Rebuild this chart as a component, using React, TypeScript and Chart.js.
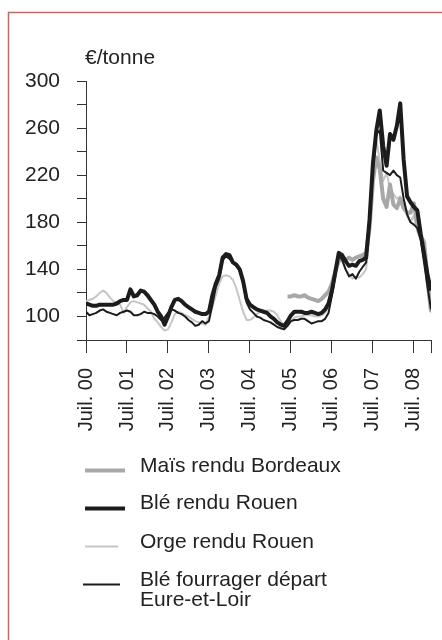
import React, { useEffect, useRef } from "react";
import { Chart, registerables } from "chart.js";

Chart.register(...registerables);

// Month index 0 = juillet 2000 ... 101 = décembre 2008
const xTickMonths = [0, 12, 24, 36, 48, 60, 72, 84, 96, 101];
const xTickLabels = ["Juil. 00", "Juil. 01", "Juil. 02", "Juil. 03", "Juil. 04", "Juil. 05", "Juil. 06", "Juil. 07", "Juil. 08", ""];
const yTickValues = [80, 100, 120, 140, 160, 180, 200, 220, 240, 260, 280, 300];
const yLabeledTicks = [100, 140, 180, 220, 260, 300];
const unitLabel = "€/tonne";

const seriesNames = ["Maïs rendu Bordeaux", "Blé rendu Rouen", "Orge rendu Rouen", "Blé fourrager départ|Eure-et-Loir"];

const maisBordeaux: (number | null)[] = [
  null, null, null, null, null, null, null, null, null, null, null, null,
  null, null, null, null, null, null, null, null, null, null, null, null,
  null, null, null, null, null, null, null, null, null, null, null, null,
  null, null, null, null, null, null, null, null, null, null, null, null,
  null, null, null, null, null, null, null, null, null, null, null, 117,
  117, 118, 117, 117, 118, 116, 115, 114, 113, 115, 118, 121,
  128, 138, 147, 149, 148, 150, 148, 150, 151, 152, 154, 175,
  215, 235, 225, 200, 193, 212, 195, 192, 200, 192, 188, 188,
  196, 178, 168, 163, 130, 104,
];

const bleRouen: number[] = [
  111, 110, 109, 109, 110, 110, 110, 110, 110, 111, 113, 114,
  114, 123, 117, 118, 122, 121, 118, 114, 110, 104, 100, 93,
  100, 108, 114, 115, 113, 110, 108, 106, 104, 103, 102, 102,
  104, 118, 128, 135, 150, 153, 152, 146, 144, 140, 130, 115,
  110, 108, 106, 105, 104, 103, 100, 98, 95, 93, 92, 96,
  101, 104, 104, 104, 103, 103, 104, 103, 102, 103, 106, 111,
  122, 138, 154, 152, 147, 143, 144, 143, 147, 148, 150, 182,
  230, 258, 275, 245, 228, 255, 250, 262, 281, 233, 202, 197,
  193, 190, 170, 153, 135, 122,
];

const orgeRouen: number[] = [
  113, 114, 115, 117, 120, 122, 120, 116, 113, 112, 110, 103,
  108, 112, 113, 112, 111, 110, 107, 104, 98, 95, 91, 88,
  89, 95, 102, 104, 103, 101, 100, 98, 96, 95, 94, 93,
  100, 108, 118, 128, 134, 135, 134, 131, 124, 114, 104, 97,
  97, 99, 102, 104, 104, 105, 105, 104, 101, 96, 92, 93,
  96, 99, 100, 100, 101, 101, 101, 100, 100, 101, 103, 108,
  118, 132, 148, 147, 140, 136, 132, 134, 133, 136, 140, 170,
  220, 250, 232, 215, 222, 208, 204, 200, 202, 195, 185, 180,
  186, 172, 165, 150, 125, 103,
];

const bleFourrager: number[] = [
  104, 101, 102, 103, 105, 106, 104, 103, 102, 101, 103, 104,
  105, 104, 101, 101, 102, 104, 103, 103, 102, 100, 97, 99,
  103, 106, 105, 103, 102, 100, 97, 95, 92, 93, 96, 94,
  96, 110, 125, 132, 148, 151, 149, 146, 143, 139, 128, 112,
  106, 103, 100, 99, 97, 96, 95, 93, 91, 90, 89, 92,
  96, 97, 97, 98, 98, 96, 94, 95, 96, 96, 98, 103,
  118, 135, 152, 148, 140, 134, 136, 132, 138, 142, 146, 178,
  225, 255, 258, 224, 222, 220, 224, 220, 218, 200, 187, 180,
  178, 175, 165, 145, 125, 106,
];

const FONT = "'Liberation Sans', Arial, Helvetica, sans-serif";
const BLACK = "#1c1c1c";
const GRAY_THICK = "#a8a8a8";
const GRAY_THIN = "#c6c6c6";

const styles = [
  { color: GRAY_THICK, width: 4, order: 2 },
  { color: BLACK, width: 4, order: 0 },
  { color: GRAY_THIN, width: 2, order: 3 },
  { color: BLACK, width: 2, order: 1 },
];
const seriesValues = [maisBordeaux, bleRouen, orgeRouen, bleFourrager];

const decorPlugin = {
  id: "decor",
  afterDraw(chart: any) {
    const ctx = chart.ctx as CanvasRenderingContext2D;
    ctx.save();
    // frame
    ctx.strokeStyle = "#d8615b";
    ctx.lineWidth = 1.5;
    ctx.strokeRect(8.5, 12.5, 600, 800);
    // unit
    ctx.fillStyle = "#222";
    ctx.font = `21px ${FONT}`;
    ctx.textBaseline = "middle";
    ctx.textAlign = "left";
    ctx.fillText(unitLabel, 85, 58);
    // legend
    const rows = [
      { lineY: 470.5, textY: [466], x1: 85, x2: 125 },
      { lineY: 508.5, textY: [503], x1: 85, x2: 125 },
      { lineY: 546.5, textY: [542], x1: 85, x2: 118 },
      { lineY: 584.5, textY: [580, 600], x1: 83, x2: 120 },
    ];
    rows.forEach((r, i) => {
      ctx.strokeStyle = styles[i].color;
      ctx.lineWidth = styles[i].width;
      ctx.beginPath();
      ctx.moveTo(r.x1, r.lineY);
      ctx.lineTo(r.x2, r.lineY);
      ctx.stroke();
      const lines = seriesNames[i].split("|");
      lines.forEach((t, k) => {
        ctx.fillStyle = "#222";
        ctx.fillText(t, 140, r.textY[k]);
      });
    });
    ctx.restore();
  },
};

export default function App() {
  const ref = useRef<HTMLCanvasElement>(null);
  useEffect(() => {
    const canvas = ref.current!;
    const chart = new Chart(canvas, {
      type: "line",
      data: {
        datasets: seriesValues.map((vals, i) => ({
          label: seriesNames[i].replace("|", " "),
          data: vals.map((v, k) => ({ x: k, y: v })),
          borderColor: styles[i].color,
          borderWidth: styles[i].width,
          order: styles[i].order,
          pointRadius: 0,
          tension: 0,
          spanGaps: false,
          borderJoinStyle: "round" as const,
          borderCapStyle: "butt" as const,
        })),
      },
      options: {
        animation: false,
        responsive: false,
        devicePixelRatio: 1,
        layout: { padding: { left: 8, top: 81, right: 11, bottom: 204 } },
        plugins: { legend: { display: false }, tooltip: { enabled: false } },
        scales: {
          x: {
            type: "linear",
            min: 0,
            max: 101,
            afterBuildTicks: (s: any) => {
              s.ticks = xTickMonths.map((v) => ({ value: v }));
            },
            afterFit: (s: any) => {
              s.height = 96;
              s.paddingLeft = 0;
              s.paddingRight = 0;
            },
            grid: { drawOnChartArea: false, drawTicks: true, tickLength: 13, color: "#333", lineWidth: 1 },
            border: { display: true, color: "#333", width: 1 },
            ticks: {
              autoSkip: false,
              minRotation: 90,
              maxRotation: 90,
              padding: 15,
              color: "#222",
              font: { family: FONT, size: 20 },
              callback: (v: any) => {
                const idx = xTickMonths.indexOf(Number(v));
                return idx >= 0 ? xTickLabels[idx] : "";
              },
            },
          },
          y: {
            min: 80,
            max: 300,
            afterBuildTicks: (s: any) => {
              s.ticks = yTickValues.map((v) => ({ value: v }));
            },
            afterFit: (s: any) => {
              s.width = 78;
              s.paddingTop = 0;
              s.paddingBottom = 0;
            },
            grid: { drawOnChartArea: false, drawTicks: true, tickLength: 9, color: "#333", lineWidth: 1 },
            border: { display: true, color: "#333", width: 1 },
            ticks: {
              autoSkip: false,
              padding: 17,
              color: "#222",
              font: { family: FONT, size: 21 },
              callback: (v: any) => (yLabeledTicks.includes(Number(v)) ? String(v) : ""),
            },
          },
        },
      },
      plugins: [decorPlugin],
    });
    return () => chart.destroy();
  }, []);
  return (
    <div style={{ position: "absolute", left: 0, top: 0, width: 442, height: 640, overflow: "hidden", background: "#fff" }}>
      <canvas ref={ref} width={442} height={640} style={{ display: "block", width: 442, height: 640 }} />
    </div>
  );
}
